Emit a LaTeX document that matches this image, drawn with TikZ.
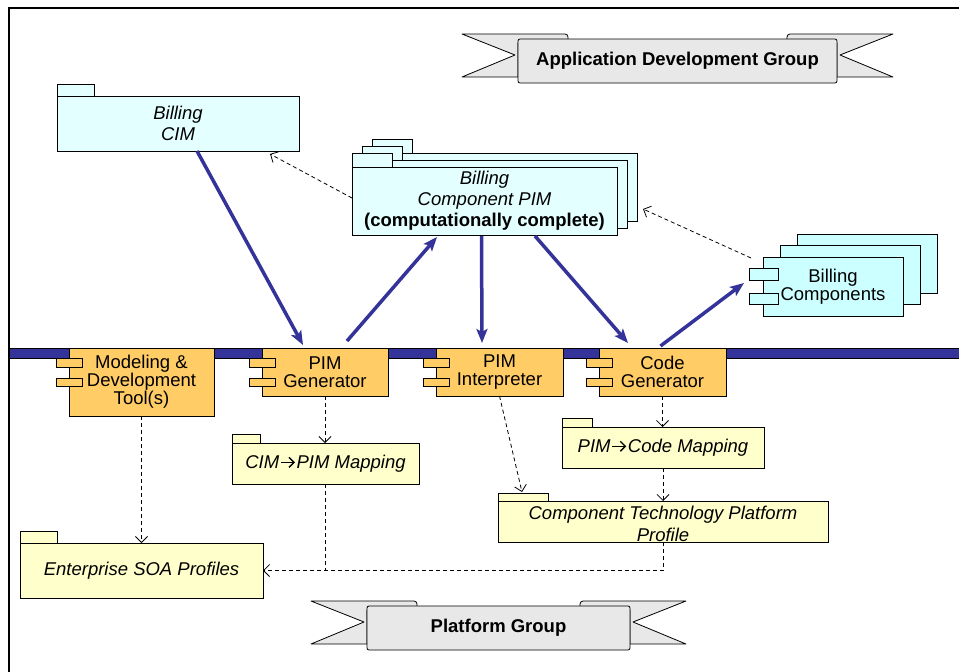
\documentclass[tikz,border=0pt]{standalone}
\usepackage{fontspec}
\setmainfont{Liberation Sans}
\usetikzlibrary{arrows.meta,calc}

\definecolor{navy}{RGB}{51,51,153}
\definecolor{orangefill}{RGB}{255,204,102}
\definecolor{yellowfill}{RGB}{255,255,204}
\definecolor{cyanpkg}{RGB}{227,255,255}
\definecolor{cyancomp}{RGB}{204,255,255}
\definecolor{bannerfill}{RGB}{232,232,232}

% upright mapping arrow used inside package names
\newcommand{\mapsarrow}{\kern1pt\tikz[baseline=0pt]\draw[black, line width=1.4pt,
  -{Straight Barb[length=5pt,width=10pt,line width=1.4pt]}] (0pt,6pt) -- (14pt,6pt);\kern1pt}

\tikzset{
  banner/.pic={
    \foreach \s in {1,-1} {
      \begin{scope}[xscale=\s]
        \filldraw[fill=bannerfill, line width=0.8pt, line join=round]
          ({-#1-56},-27) {[rounded corners=3pt] -- ({-#1+50},-27) -- ({-#1+50},-18)}
          -- ({-#1},-18) -- ({-#1},16) -- ({-#1-56},16) -- ({-#1-3},-6) -- cycle;
      \end{scope}
    }
    \filldraw[fill=bannerfill, line width=0.8pt, rounded corners=2pt] ({-#1},-22) rectangle ({#1},22);
  },
  sz/.style 2 args={minimum width=#1pt, minimum height=#2pt},
  outline/.style={draw=black, line width=0.8pt},
  cimpkg/.style={outline, fill=cyanpkg, align=center},
  comp/.style={outline, fill=cyancomp, align=center, font=\fontsize{18.5}{18}\selectfont},
  tool/.style={outline, fill=orangefill, align=center, font=\fontsize{18.5}{18}\selectfont},
  ypkg/.style={outline, fill=yellowfill, align=center, font=\fontsize{18.5}{22}\selectfont\itshape},
  knob/.style={outline},
  flow/.style={navy, line width=3.5pt, -{Stealth[length=14pt,width=11pt,inset=3pt]}},
  dep/.style={black, line width=0.8pt, dash pattern=on 4pt off 3pt, -{Straight Barb[length=6pt,width=12pt]}},
  depline/.style={black, line width=0.8pt, dash pattern=on 4pt off 3pt},
  bannertext/.style={font=\fontsize{18.5}{21}\selectfont\bfseries}
}

\begin{document}
\begin{tikzpicture}[x=1pt, y=-1pt,
  every node/.style={font=\fontsize{18.5}{21}\selectfont, inner sep=0pt, outer sep=0pt}]
\useasboundingbox (0,0) rectangle (959,672);

% frame
\draw[line width=1.2pt] (9,672) -- (9,8) -- (959,8);

% banners
\pic (appbanner) at (677.5,61) {banner=159.5};
\node[bannertext] (apptitle) at (677.5,61) {Application Development Group};
\pic (platbanner) at (498.5,628) {banner=131.5};
\node[bannertext] (plattitle) at (498.5,628) {Platform Group};

% platform bus
\filldraw[fill=navy, draw=black, line width=0.8pt] (9,348) rectangle (962,358);

% Billing CIM package
\node[cimpkg, sz={242}{55}] (cim) at (178,123.5) {\textit{Billing}\\\textit{CIM}};
\filldraw[outline, fill=cyanpkg] (cim.north west) rectangle ++(37,-12);

% Billing Component PIM package stack
\node[cimpkg, sz={265}{68}] (pimback) at (504.5,187) {};
\filldraw[outline, fill=cyanpkg] (pimback.north west) rectangle ++(40,-14);
\node[cimpkg, sz={265}{68}] (pimmid) at (494.5,194) {};
\filldraw[outline, fill=cyanpkg] (pimmid.north west) rectangle ++(40,-14);
\node[cimpkg, sz={265}{68}] (pim) at (484.5,201)
  {\textit{Billing}\\\textit{Component PIM}\\\textbf{(computationally complete)}};
\filldraw[outline, fill=cyanpkg] (pim.north west) rectangle ++(40,-14);

% Billing Components stack
\node[comp, sz={140}{59}] (compC) at (867,263.5) {};
\node[comp, sz={140}{59}] (compB) at (850,275) {};
\node[comp, sz={140}{59}] (compA) at (833,286.5) {Billing\\Components};
\filldraw[knob, fill=cyancomp] ([xshift=-14pt,yshift=-11pt]compA.north west) rectangle ++(29,12);
\filldraw[knob, fill=cyancomp] ([xshift=-14pt,yshift=-36pt]compA.north west) rectangle ++(29,11);

% tools on the platform bus
\node[tool, sz={145}{68}] (modtool) at (141.5,382) {Modeling \&\\Development\\Tool(s)};
\node[tool, sz={126}{48}] (pimgen) at (325,372) {PIM\\Generator};
\node[tool, sz={127}{48}] (pimint) at (499.5,372) {PIM\\Interpreter};
\node[tool, sz={127}{48}] (codegen) at (662.5,372) {Code\\Generator};
\foreach \n in {modtool,pimgen,pimint,codegen} {
  \filldraw[knob, fill=orangefill] ([xshift=-13pt,yshift=-10pt]\n.north west) rectangle ++(26,9);
  \filldraw[knob, fill=orangefill] ([xshift=-13pt,yshift=-30pt]\n.north west) rectangle ++(26,8);
}

% platform packages
\node[ypkg, sz={187}{41}] (cimmap) at (325.5,463.5) {CIM\mapsarrow PIM Mapping};
\filldraw[outline, fill=yellowfill] (cimmap.north west) rectangle ++(28,-9);
\node[ypkg, sz={202}{41}] (codemap) at (663,447.5) {PIM\mapsarrow Code Mapping};
\filldraw[outline, fill=yellowfill] (codemap.north west) rectangle ++(30,-9);
\node[ypkg, sz={330}{41}] (ctpp) at (663,521.5) {};
\filldraw[outline, fill=yellowfill] (ctpp.north west) rectangle ++(50,-8);
\node[ypkg, draw=none, fill=none] (ctpptext) at (663,524) {Component Technology Platform\\Profile};
\node[ypkg, sz={243}{55}] (soa) at (141.5,570.5) {Enterprise SOA Profiles};
\filldraw[outline, fill=yellowfill] (soa.north west) rectangle ++(37,-12);

% model transformation flows
\draw[flow] ([xshift=19pt]cim.south) -- ([xshift=-22pt,yshift=3pt]pimgen.north);
\draw[flow] ([xshift=22pt,yshift=7pt]pimgen.north) -- ([xshift=-47.5pt,yshift=-2pt]pim.south);
\draw[flow] ([xshift=-3pt,yshift=-1pt]pim.south) -- ([xshift=-17.5pt,yshift=5pt]pimint.north);
\draw[flow] ([xshift=50.5pt,yshift=-1pt]pim.south) -- ([xshift=-34.5pt,yshift=5pt]codegen.north);
\draw[flow] ([xshift=-2pt,yshift=2pt]codegen.north) -- ([xshift=-19pt,yshift=3.5pt]compA.west);

% dependencies
\draw[dep] ([yshift=3pt]pim.west) -- ([xshift=-29pt,yshift=-3pt]cim.south east);
\draw[dep] ([xshift=-12pt,yshift=-1pt]compA.north west) -- ([xshift=6pt,yshift=-22pt]pimback.east);
\draw[dep] (modtool.south) -- (modtool.south |- soa.north);
\draw[dep] (pimgen.south) -- (pimgen.south |- cimmap.north);
\coordinate (join) at (cimmap.south |- soa.east);
\draw[depline] (cimmap.south) -- (join);
\draw[dep] (pimint.south) -- ([xshift=24pt,yshift=9pt]ctpp.north west);
\draw[dep] (codegen.south) -- (codegen.south |- codemap.north);
\draw[dep] (codemap.south) -- (ctpp.north);
\draw[dep] (ctpp.south) -- (ctpp.south |- soa.east) -- (soa.east);
\end{tikzpicture}
\end{document}
